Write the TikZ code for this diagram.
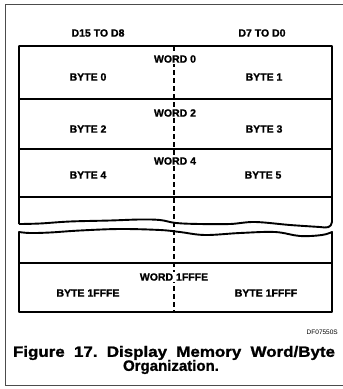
\documentclass[tikz,border=0pt]{standalone}
\usepackage{fontspec}
\setmainfont{Liberation Sans}
\newfontfamily\heavyfont{Liberation Sans}[BoldFeatures={FakeBold=1.2}]
\usepackage{graphicx}
\frenchspacing
\begin{document}
\begin{tikzpicture}[x=1pt,y=-1pt,
  lbl/.style={font=\heavyfont\fontsize{10.5}{12}\selectfont\bfseries, inner sep=1pt},
  wlbl/.style={lbl, fill=white},
  heavy/.style={line width=1.9pt},
  rowline/.style={line width=1.1pt},
  divider/.style={line width=1.2pt, dash pattern=on 5pt off 3pt},
  frame/.style={line width=0.7pt, draw=black!70}]
\useasboundingbox (0,0) rectangle (343,389);
\fill[white] (0,0) rectangle (343,389);
% outer frame
\draw[frame] (345,4) -- (5,4) -- (5,385) -- (345,385);
% headers
\node[lbl] (h1) at (98,33) {D15 TO D8};
\node[lbl] (h2) at (262,33) {D7 TO D0};
% coordinates for divider
\coordinate (dtop) at (174,46);
\coordinate (dbot) at (174,312);
\draw[divider] (dtop) -- (dbot);
% upper part
\draw[heavy, line join=round] (19,224) -- (19,46) -- (332,46) -- (332,222)
  .. controls (331,228) and (327,228) .. (320,227)
  plot[smooth, tension=0.6] coordinates {(320,227) (290,225) (255,222) (230,224) (200,224) (176,223) (160,220) (140,219.5) (110,220.5) (70,221.5) (40,223.5) (19,224)};
% lower part
\draw[heavy, line join=round] plot[smooth, tension=0.6] coordinates {(19,232) (30,233) (50,232.5) (80,230.5) (120,229) (160,230) (180,232) (205,235) (240,233) (275,232) (300,236) (322,235) (332,232)}
  -- (332,312) -- (19,312) -- cycle;
% row lines
\draw[rowline] (19,99) -- (332,99);
\draw[rowline] (19,149) -- (332,149);
\draw[rowline] (19,197) -- (332,197);
\draw[rowline] (19,263) -- (332,263);
% word / byte labels
\node[wlbl] (w0) at (175,59) {WORD 0};
\node[lbl] (b0) at (88,77) {BYTE 0};
\node[lbl] (b1) at (264,77) {BYTE 1};
\node[wlbl] (w2) at (175,113) {WORD 2};
\node[lbl] (b2) at (88,129) {BYTE 2};
\node[lbl] (b3) at (264,129) {BYTE 3};
\node[wlbl] (w4) at (175,161) {WORD 4};
\node[lbl] (b4) at (88,175) {BYTE 4};
\node[lbl] (b5) at (263,175) {BYTE 5};
\node[wlbl] (w6) at (174,277) {WORD 1FFFE};
\node[lbl] (b6) at (88,293) {BYTE 1FFFE};
\node[lbl] (b7) at (266,293) {BYTE 1FFFF};
% figure id and caption
\node[font=\fontsize{6.5}{8}\selectfont, anchor=east, inner sep=0pt] (df) at (338,332) {DF07550S};
\node[font=\heavyfont\fontsize{15}{17}\selectfont\bfseries, inner sep=0pt] (cap1) at (174,353)
  {\scalebox{1.13}[1]{\makebox[285pt][s]{Figure 17. Display Memory Word/Byte}}};
\node[font=\heavyfont\fontsize{15}{17}\selectfont\bfseries, inner sep=0pt] (cap2) at (171,367) {Organization.};
\end{tikzpicture}
\end{document}
